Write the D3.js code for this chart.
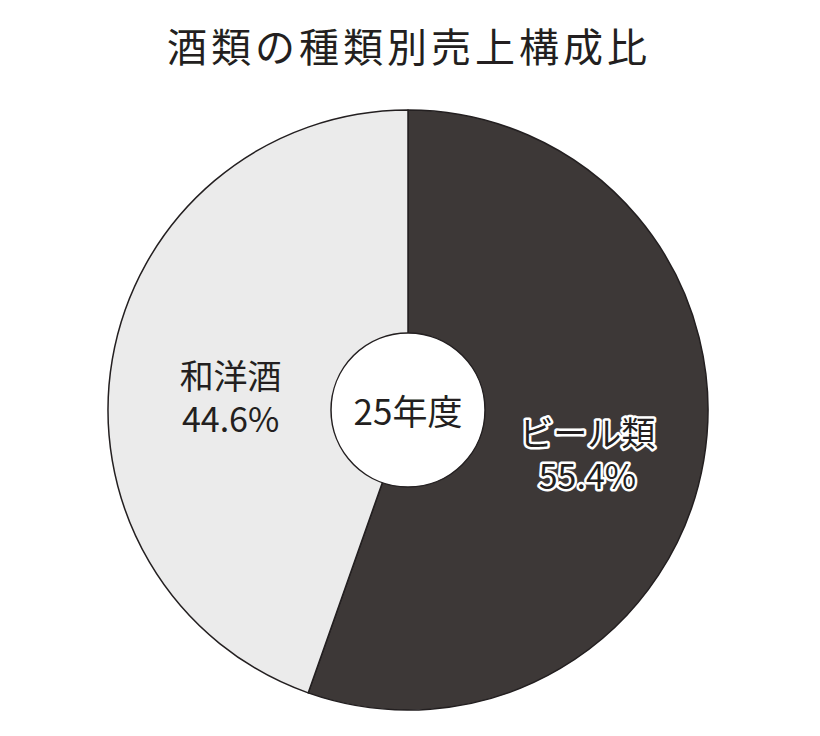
<!DOCTYPE html>
<html><head><meta charset="utf-8">
<script src="https://cdn.jsdelivr.net/npm/d3@7"></script>
<style>
body{margin:0;background:#fff;}
svg{display:block;font-family:"Noto Sans CJK JP","Noto Sans",sans-serif;}
</style></head>
<body><svg id="c" width="820" height="736"></svg>
<script>
const title = "酒類の種類別売上構成比";
const centerLabel = "25年度";
const categories = ["ビール類", "和洋酒"];
const values = [55.4, 44.6];
const colors = ["#3d3837", "#ebebeb"];

const W = 820, H = 736, cx = 408, cy = 410, R = 300, r0 = 77;
const svg = d3.select("#c");

svg.append("text").attr("x", 409).attr("y", 62).attr("text-anchor", "middle")
  .attr("font-size", 40).attr("letter-spacing", 4).attr("fill", "#231f20").text(title);

const data = categories.map((c, i) => ({name: c, value: values[i], color: colors[i]}));
const pie = d3.pie().value(d => d.value).sort(null);
const arcs = pie(data);
const arc = d3.arc().innerRadius(0).outerRadius(R);
const g = svg.append("g").attr("transform", `translate(${cx},${cy})`);

g.selectAll("path.s").data(arcs).join("path").attr("class", "s")
  .attr("d", arc).attr("fill", d => d.data.color)
  .attr("stroke", "#231f20").attr("stroke-width", 1.5).attr("stroke-linejoin", "round");

g.append("circle").attr("r", r0).attr("fill", "#fff").attr("stroke", "#231f20").attr("stroke-width", 1.5);
g.append("text").attr("y", 15).attr("text-anchor", "middle").attr("font-size", 35)
  .attr("fill", "#231f20").text(centerLabel);

// label placement offsets (layout only)
const labelArc = d3.arc().innerRadius(182).outerRadius(182);
const adjust = [[0, 5], [2, 10]];
arcs.forEach((a, i) => {
  const [x, y] = labelArc.centroid(a);
  const lx = x + adjust[i][0], ly = y + adjust[i][1];
  const t = g.append("text").attr("text-anchor", "middle").attr("font-size", 34).attr("fill", "#231f20");
  if (i === 0) t.attr("stroke", "#fff").attr("stroke-width", 5).attr("paint-order", "stroke").attr("stroke-linejoin", "round");
  t.append("tspan").attr("x", lx).attr("y", ly).text(a.data.name);
  t.append("tspan").attr("x", lx).attr("y", ly + 43).text(a.data.value.toFixed(1) + "%");
});
</script></body></html>
